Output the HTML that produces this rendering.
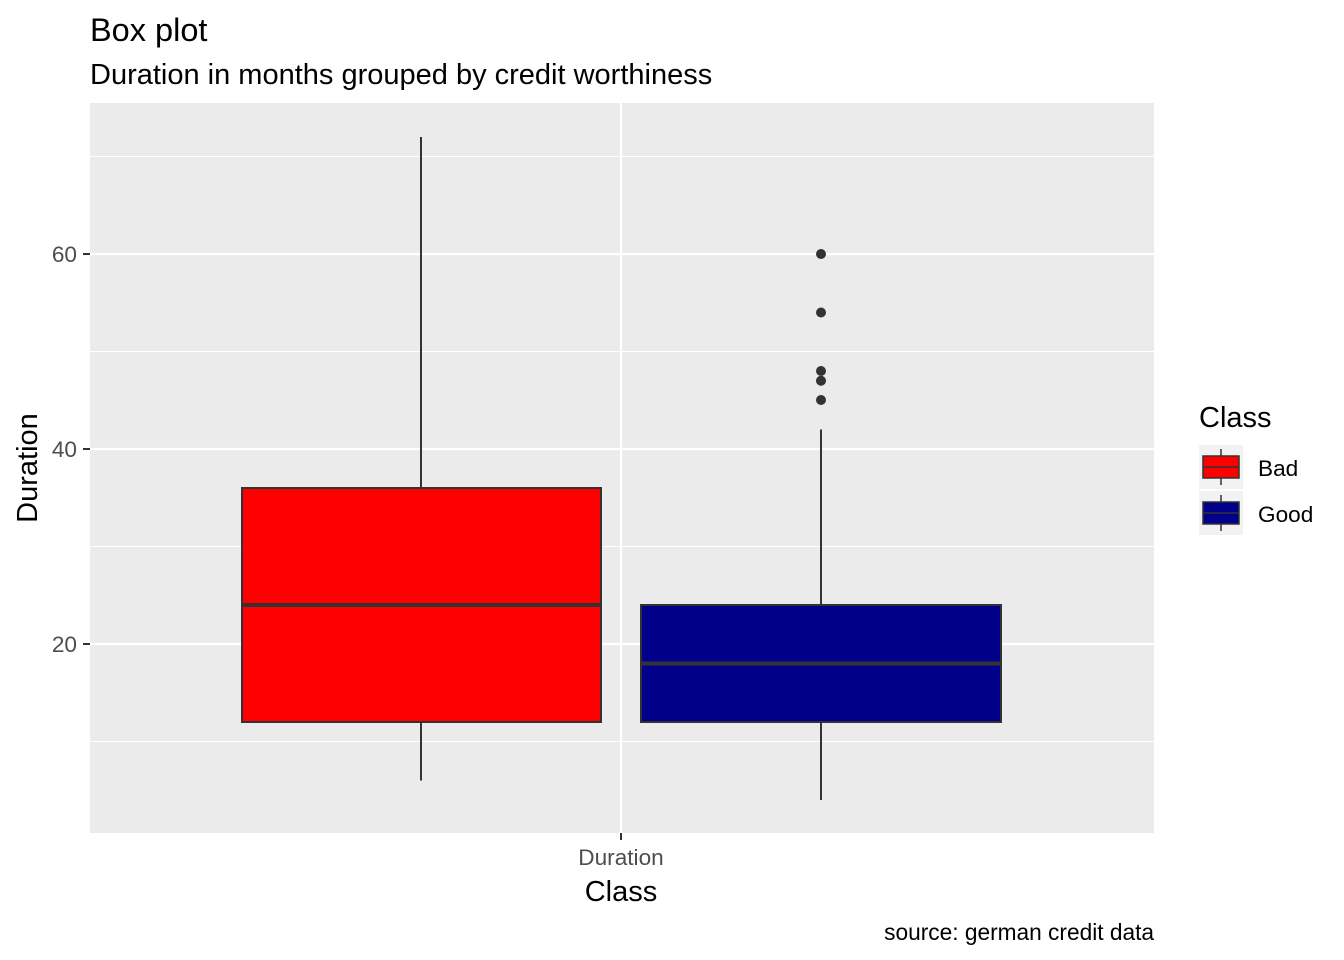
<!DOCTYPE html>
<html><head><meta charset="utf-8"><style>
body{margin:0;background:#fff}
svg{display:block;font-family:"Liberation Sans",Arial,sans-serif}
</style></head><body>
<svg width="1344" height="960" xmlns="http://www.w3.org/2000/svg">
<rect width="1344" height="960" fill="#fff"/>
<text x="90" y="41" font-size="32.5" fill="#000">Box plot</text>
<text x="90" y="84" font-size="29" fill="#000">Duration in months grouped by credit worthiness</text>
<rect x="90" y="103" width="1064" height="730" fill="#ebebeb"/>
<g stroke="#fff" stroke-width="1.1">
<line x1="90" x2="1154" y1="156.5" y2="156.5"/>
<line x1="90" x2="1154" y1="351.5" y2="351.5"/>
<line x1="90" x2="1154" y1="546.5" y2="546.5"/>
<line x1="90" x2="1154" y1="741.5" y2="741.5"/>
</g>
<g stroke="#fff" stroke-width="2.2">
<line x1="90" x2="1154" y1="254" y2="254"/>
<line x1="90" x2="1154" y1="449" y2="449"/>
<line x1="90" x2="1154" y1="644" y2="644"/>
<line x1="621" x2="621" y1="103" y2="833"/>
</g>
<g stroke="#333" stroke-width="2">
<line x1="421" x2="421" y1="137" y2="488"/>
<line x1="421" x2="421" y1="722" y2="780.5"/>
<rect x="242" y="488" width="359" height="234" fill="#ff0000"/>
<line x1="242" x2="601" y1="605" y2="605" stroke-width="4"/>
<line x1="821" x2="821" y1="429.5" y2="605"/>
<line x1="821" x2="821" y1="722" y2="800"/>
<rect x="641" y="605" width="360" height="117" fill="#00008b"/>
<line x1="641" x2="1001" y1="663.5" y2="663.5" stroke-width="4"/>
</g>
<g fill="#333">
<circle cx="821" cy="254" r="5"/><circle cx="821" cy="312.5" r="5"/>
<circle cx="821" cy="371" r="5"/><circle cx="821" cy="380.75" r="5"/>
<circle cx="821" cy="400" r="5"/>
</g>
<g stroke="#333" stroke-width="2">
<line x1="83" x2="90" y1="254" y2="254"/><line x1="83" x2="90" y1="449" y2="449"/><line x1="83" x2="90" y1="644" y2="644"/>
<line x1="621" x2="621" y1="833" y2="840"/>
</g>
<g font-size="22.6" fill="#4d4d4d" text-anchor="end">
<text x="77" y="262">60</text><text x="77" y="457">40</text><text x="77" y="652">20</text>
</g>
<text x="621" y="865" font-size="22.6" fill="#4d4d4d" text-anchor="middle">Duration</text>
<text x="621" y="901" font-size="29" fill="#000" text-anchor="middle">Class</text>
<text x="37" y="468" font-size="29" fill="#000" text-anchor="middle" transform="rotate(-90 37 468)">Duration</text>
<text x="1154" y="940" font-size="22.7" fill="#000" text-anchor="end">source: german credit data</text>
<text x="1199" y="427" font-size="29" fill="#000">Class</text>
<rect x="1199" y="445" width="44" height="44" fill="#f2f2f2"/>
<rect x="1199" y="491" width="44" height="44" fill="#f2f2f2"/>
<g stroke="#333" stroke-width="1.5">
<line x1="1221" x2="1221" y1="449" y2="485"/>
<rect x="1203" y="456" width="36" height="22" fill="#ff0000"/>
<line x1="1203" x2="1239" y1="467" y2="467"/>
<line x1="1221" x2="1221" y1="495" y2="531"/>
<rect x="1203" y="502" width="36" height="22" fill="#00008b"/>
<line x1="1203" x2="1239" y1="513" y2="513"/>
</g>
<text x="1258" y="476" font-size="22.6" fill="#000">Bad</text>
<text x="1258" y="522" font-size="22.6" fill="#000">Good</text>
</svg>
</body></html>
